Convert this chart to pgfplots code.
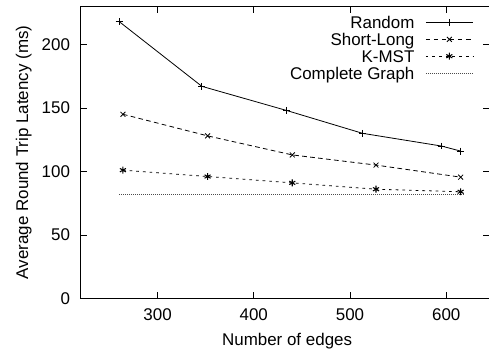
\documentclass[border=0pt]{standalone}
\usepackage{pgfplots}
\pgfplotsset{compat=1.18}
\usepackage{fontspec}
\setmainfont{Liberation Sans}
\begin{document}
\fontsize{12.7}{15}\selectfont
\begin{tikzpicture}[x=1pt,y=1pt]
\useasboundingbox (-60.4pt,-39.5pt) rectangle (306.1pt,223.7pt);
\begin{axis}[
  at={(0,0)}, anchor=south west,
  scale only axis, width=306.5pt, height=219pt,
  xmin=220, xmax=645, ymin=0, ymax=230,
  xtick={300,400,500,600}, ytick={0,50,100,150,200},
  tick align=inside, major tick length=5pt,
  axis line style={line width=1pt},
  tick style={line width=0.6pt, black},
  /pgf/number format/assume math mode=true,
  ticklabel style={font=\fontsize{12.7}{15}\selectfont},
  yticklabel style={xshift=-3.5pt},
  xticklabel style={yshift=-3pt},
  xlabel={Number of edges},
  ylabel={Average Round Trip Latency (ms)},
  xlabel style={at={(axis description cs:0.505,-0.162)}, anchor=base},
  ylabel style={at={(axis description cs:-0.139,0.5)}, anchor=center, rotate=0},
  legend plot pos=right,
  legend cell align=right,
  legend style={draw=none, fill=none, at={(axis description cs:0.9608,0.975)}, anchor=north east,
    font=\fontsize{12.7}{15}\selectfont, row sep=-0.5pt, inner sep=0pt,
    nodes={inner sep=2pt, text height=9.1pt, text depth=0pt}},
  legend image code/.code={\path (0pt,0pt); \draw[mark repeat=2, mark phase=2, #1] plot coordinates {(6.25pt,0pt) (23.9pt,0pt) (41.5pt,0pt)};},
  every axis plot/.append style={line width=0.6pt, black, mark size=2.6pt, mark options={solid, line width=0.6pt}},
]
\addplot[mark=+] coordinates {(260,218) (346,167) (434,148) (513,130) (595,120) (615,116)};
\addlegendentry{Random}
\addplot[mark=x, dash pattern=on 3.5pt off 2.5pt] coordinates {(264,145) (352,128) (440,113) (527,105) (615,95.5)};
\addlegendentry{Short-Long}
\addplot[mark=asterisk, dash pattern=on 2pt off 3pt, mark options={solid, line width=0.8pt}] coordinates {(264,101) (352,96) (440,91) (527,86) (615,84)};
\addlegendentry{K-MST}
\addplot[black!70, dash pattern=on 0.6pt off 0.9pt, no marks] coordinates {(260,82) (619,82)};
\addlegendentry{Complete Graph}
\end{axis}
\end{tikzpicture}
\end{document}
